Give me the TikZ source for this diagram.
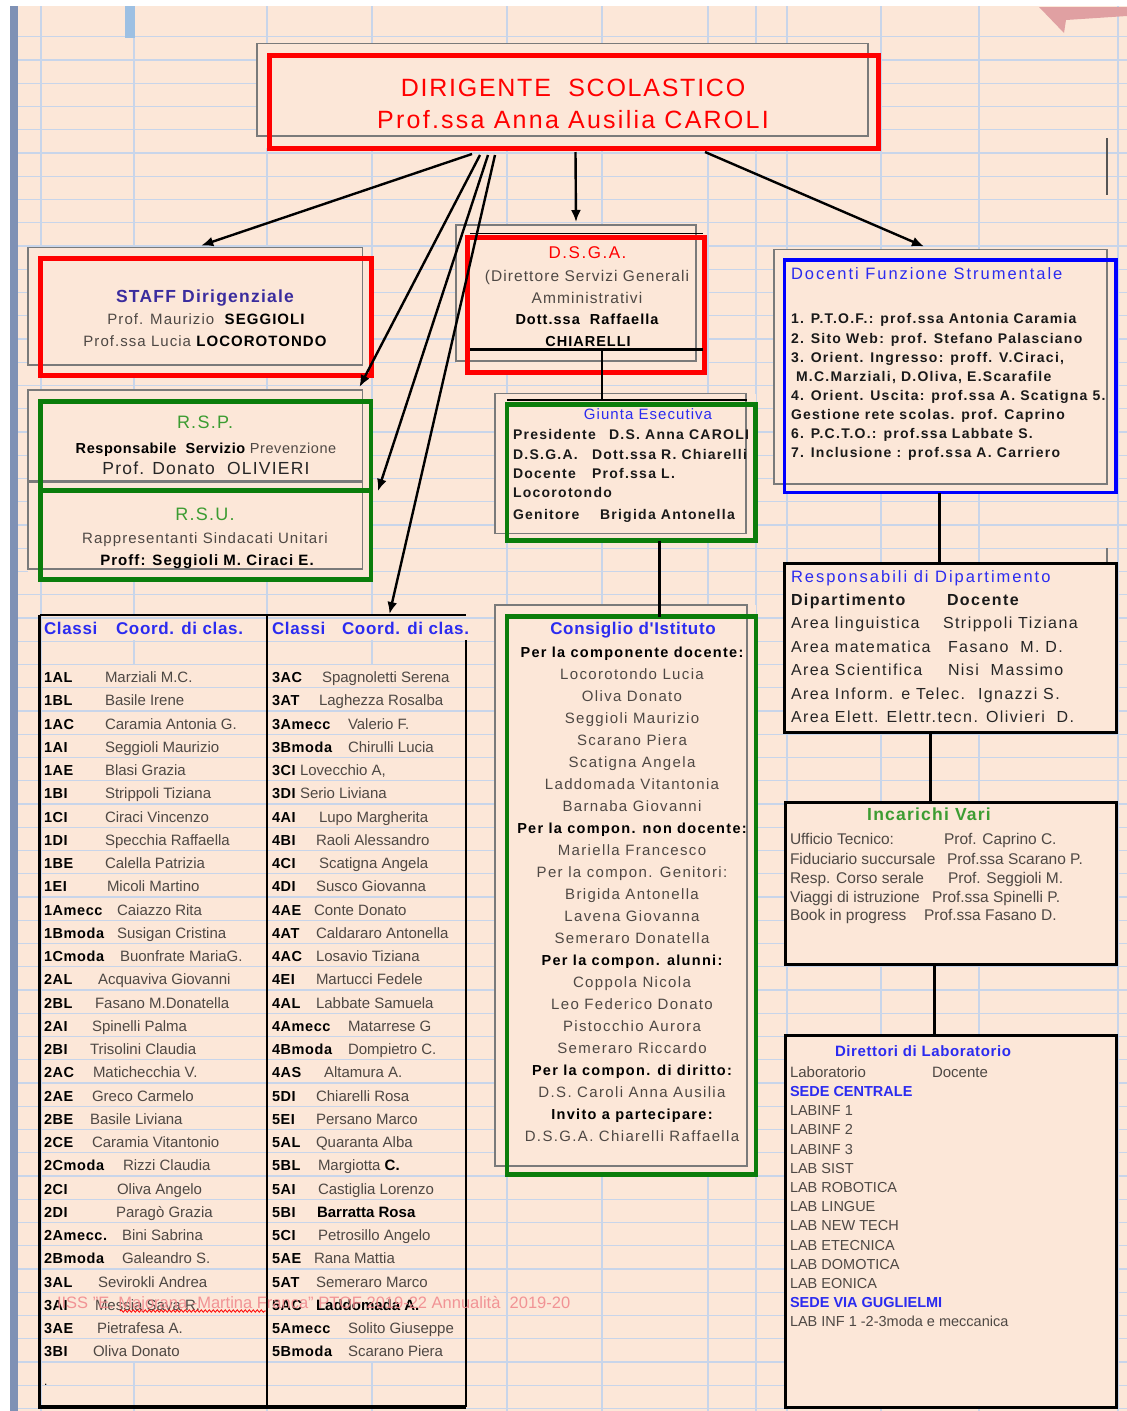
\documentclass[tikz,border=0pt]{standalone}
\usepackage{fontspec}
\setmainfont{Liberation Sans}
\newfontfamily\lsA{Liberation Sans}[LetterSpace=4]
\newfontfamily\lsB{Liberation Sans}[LetterSpace=7]
\newfontfamily\lsC{Liberation Sans}[LetterSpace=9]
\newfontfamily\lsD{Liberation Sans}[LetterSpace=12]
\usetikzlibrary{arrows.meta,fit,decorations.pathmorphing}
\newcommand{\fsz}[1]{\fontsize{#1}{#1}\selectfont}
\definecolor{bgpeach}{HTML}{FCE7D8}
\definecolor{gridblue}{HTML}{C8D5EA}
\definecolor{barblue}{HTML}{7F91B5}
\definecolor{tabmark}{HTML}{9DC0E3}
\definecolor{pinkshape}{HTML}{E0A0A2}
\definecolor{txtgray}{HTML}{4E4844}
\definecolor{ttlblue}{HTML}{2B2BF0}
\definecolor{ttlindigo}{HTML}{3A2C9E}
\definecolor{ttlgreen}{HTML}{3C9C32}
\definecolor{boxgreen}{HTML}{0B7D0B}
\definecolor{graybox}{HTML}{7A7A7A}
\definecolor{wmred}{HTML}{F08A8E}
\tikzset{
  txt/.style={inner sep=0pt, outer sep=0pt, anchor=mid, yshift=-4pt},
  ltxt/.style={inner sep=0pt, outer sep=0pt, anchor=mid west, yshift=-4pt},
  grayframe/.style={draw=graybox, line width=1.6pt, fill=bgpeach, inner sep=0pt, outer sep=0pt},
  redframe/.style={draw=red, line width=5pt, inner sep=0pt, outer sep=0pt},
  greenframe/.style={draw=boxgreen, line width=4.5pt, inner sep=0pt, outer sep=0pt},
  blueframe/.style={draw=blue, line width=3.5pt, inner sep=0pt, outer sep=0pt},
  blackframe/.style={draw=black, line width=3pt, fill=bgpeach, inner sep=0pt, outer sep=0pt},
  ghost/.style={draw=none, inner sep=0pt, outer sep=0pt},
  arr/.style={line width=2.4pt, -{Latex[length=12pt,width=10pt]}},
  conn/.style={line width=3pt},
  gridline/.style={draw=gridblue, line width=1.2pt},
  code/.style={ltxt, font=\lsA\bfseries\fsz{14.5}},
  nm/.style={ltxt, text=txtgray, font=\fsz{15}},
  consn/.style={txt, text=txtgray, font=\lsC\fsz{15}},
  consb/.style={txt, text=black, font=\lsC\bfseries\fsz{14.5}},
  dfsitem/.style={ltxt, text=black!90, font=\lsC\bfseries\fsz{14}},
  resprow/.style={ltxt, text=black!85, font=\lsC\fsz{16}},
  incrow/.style={ltxt, text=txtgray, font=\fsz{15.5}},
  labrow/.style={ltxt, text=txtgray, font=\fsz{14.5}},
  labl/.style={labrow},
  labs/.style={labrow, text=ttlblue, font=\bfseries\fsz{14.5}},
  gitem/.style={ltxt, text=black!90, font=\lsC\bfseries\fsz{14}},
}
\begin{document}
\begin{tikzpicture}[x=1pt,y=-1pt]
\useasboundingbox (0,0) rectangle (1127,1411);
\fill[white] (0,0) rectangle (1127,1411);
\fill[bgpeach] (18,6) rectangle (1127,1411);
\fill[barblue] (10,6) rectangle (18,1411);
% grid
\foreach \gk in {0,...,59} \draw[gridline] (18,36.65+23.25*\gk) -- (1127,36.65+23.25*\gk);
\foreach \gx in {41,267,507,602,708,756,787,881,979,1118} \draw[gridline] (\gx,6) -- (\gx,1411);
\foreach \gx in {134,372} {
  \draw[gridline] (\gx,6) -- (\gx,615);
  \draw[gridline] (\gx,640) -- (\gx,664.4);
  \draw[gridline] (\gx,1362) -- (\gx,1411);
}
\fill[tabmark] (125,6) rectangle (135,38);
\fill[pinkshape] (1039,7) -- (1127,7) -- (1127,16) -- (1066,20) -- (1064,33) -- cycle;
\draw[graybox!70!black, line width=1.5pt] (1107,138) -- (1107,195);
\draw[graybox, line width=1.2pt] (1107,548) -- (1107,573);

% ---------- Dirigente
\fill[bgpeach] (257,43.5) rectangle (878,148);
\node[grayframe, fit={(257,43.5)(868,136)}] (dirsh) {};
\node[redframe, fit={(269,55)(878,148)}] (dir) {};
\node[txt, text=red, font=\lsB\fsz{25}, yshift=-2pt] (dirT1) at (573,88) {DIRIGENTE\ \ SCOLASTICO};
\node[txt, text=red, font=\lsC\fsz{25}, yshift=-2pt] (dirT2) at (573,120) {Prof.ssa Anna Ausilia CAROLI};

% ---------- Staff
\fill[bgpeach] (28,247.5) rectangle (371,375);
\node[grayframe, fit={(28,247.5)(362.5,365)}] (staffsh) {};
\node[redframe, fit={(40.5,258)(371,375)}] (staff) {};
\node[txt, text=ttlindigo, font=\lsB\bfseries\fsz{17.5}] (staffT1) at (205,296) {STAFF Dirigenziale};
\node[txt, text=txtgray, font=\lsB\fsz{15}] (staffT2) at (206,318) {Prof. Maurizio\ \ \textcolor{black}{\bfseries SEGGIOLI}};
\node[txt, text=txtgray, font=\lsB\fsz{15}] (staffT3) at (205,340) {Prof.ssa Lucia \textcolor{black}{\bfseries LOCOROTONDO}};

% ---------- RSP / RSU
\fill[bgpeach] (28,390) rectangle (371,579.5);
\node[grayframe, fit={(28,390)(362.5,481)}] (rspsh) {};
\node[grayframe, fit={(28,482.5)(362.5,569)}] (rsush) {};
\node[greenframe, fit={(40.5,401.5)(371,490)}] (rsp) {};
\node[greenframe, fit={(40.5,491)(371,579.5)}] (rsu) {};
\node[txt, text=ttlgreen, font=\lsB\fsz{18}] (rspT1) at (205,422) {R.S.P.};
\node[txt, text=txtgray, font=\lsA\fsz{14.5}] (rspT2) at (206,447) {\textcolor{black}{\bfseries Responsabile\ \ Servizio} Prevenzione};
\node[txt, text=black!85, font=\lsB\fsz{17.5}] (rspT3) at (206,468) {Prof. Donato\ \ OLIVIERI};
\node[txt, text=ttlgreen, font=\lsB\fsz{18}] (rsuT1) at (205,514) {R.S.U.};
\node[txt, text=txtgray, font=\lsB\fsz{15}] (rsuT2) at (205,537) {Rappresentanti Sindacati Unitari};
\node[txt, text=black, font=\lsB\bfseries\fsz{15}] (rsuT3) at (207,559) {Proff: Seggioli M. Ciraci E.};

% ---------- DSGA
\fill[bgpeach] (456,225) rectangle (704.5,372);
\node[grayframe, fit={(456,225)(696,361)}] (dsgash) {};
\node[redframe, fit={(467.5,237.5)(704.5,372)}] (dsga) {};
\draw[black, line width=1.5pt] (470,233.3) -- (703,233.3);
\draw[black, line width=3pt] (470,349.5) -- (703,349.5);
\coordinate (dsgaline) at (602,349.5);
\node[txt, text=red, font=\lsC\fsz{17}] (dsgaT1) at (587.5,252) {D.S.G.A.};
\node[txt, text=txtgray, font=\lsB\fsz{15.5}] (dsgaT2) at (587,275) {(Direttore Servizi Generali};
\node[txt, text=txtgray, font=\lsB\fsz{15.5}] (dsgaT3) at (587,297) {Amministrativi};
\node[txt, text=black, font=\lsB\bfseries\fsz{14.5}] (dsgaT4) at (587,318) {Dott.ssa\ \ Raffaella};
\node[txt, text=black, font=\lsB\bfseries\fsz{14.5}] (dsgaT5) at (588,340) {CHIARELLI};

% ---------- Giunta
\fill[bgpeach] (495,393.5) rectangle (755.5,540.5);
\node[grayframe, fit={(495,393.5)(746,533.5)}] (giuntash) {};
\node[greenframe, fit={(507,404.5)(755.5,540.5)}] (giunta) {};
\draw[black, line width=1.5pt] (507,400) -- (747,400);
\coordinate (giuntaline) at (602,400);
\node[txt, text=ttlblue, font=\lsB\fsz{15}] (giuntaT) at (648,413) {Giunta Esecutiva};
\node[gitem] (g1a) at (513,433) {Presidente};
\node[gitem] (g1b) at (609,433) {D.S. Anna CAROLI};
\node[gitem] (g2a) at (513,453) {D.S.G.A.};
\node[gitem] (g2b) at (592,453) {Dott.ssa R. Chiarelli};
\node[gitem] (g3a) at (513,472) {Docente};
\node[gitem] (g3b) at (592,472) {Prof.ssa L.};
\node[gitem] (g4a) at (513,491) {Locorotondo};
\node[gitem] (g5a) at (513,513) {Genitore};
\node[gitem] (g5b) at (600,513) {Brigida Antonella};

% ---------- Consiglio
\fill[bgpeach] (495,605) rectangle (756,1174.5);
\node[grayframe, fit={(495,605)(747,1166)}] (conssh) {};
\node[greenframe, fit={(507,616.5)(756,1174.5)}] (cons) {};
\node[txt, text=ttlblue, font=\lsA\bfseries\fsz{17}] (consT) at (633,628) {Consiglio d'Istituto};
\foreach \st/\tx [count=\ii from 0] in {
  b/{Per la componente docente:}, n/{Locorotondo Lucia}, n/{Oliva Donato},
  n/{Seggioli Maurizio}, n/{Scarano Piera}, n/{Scatigna Angela},
  n/{Laddomada Vitantonia}, n/{Barnaba Giovanni}, b/{Per la compon. non docente:},
  n/{Mariella Francesco}, n/{Per la compon. Genitori:}, n/{Brigida Antonella},
  n/{Lavena Giovanna}, n/{Semeraro Donatella}, b/{Per la compon. alunni:},
  n/{Coppola Nicola}, n/{Leo Federico Donato}, n/{Pistocchio Aurora},
  n/{Semeraro Riccardo}, b/{Per la compon. di diritto:}, n/{D.S. Caroli Anna Ausilia},
  b/{Invito a partecipare:}, n/{D.S.G.A. Chiarelli Raffaella}}
  {\node[cons\st] (ci\ii) at (632,651+22*\ii) {\tx};}

% ---------- Docenti Funzione Strumentale
\fill[bgpeach] (774,249.5) rectangle (1116,492.5);
\node[grayframe, fit={(774,249.5)(1107,484)}] (dfssh) {};
\node[blueframe, fit={(784.5,260)(1116,492.5)}] (dfs) {};
\node[ltxt, text=ttlblue, font=\lsD\fsz{16.5}] (dfsT) at (791,273) {Docenti Funzione Strumentale};
\node[dfsitem] (dfs1) at (791,317) {1. P.T.O.F.: prof.ssa Antonia Caramia};
\node[dfsitem] (dfs2) at (791,337) {2. Sito Web: prof. Stefano Palasciano};
\node[dfsitem] (dfs3) at (791,356) {3. Orient. Ingresso: proff. V.Ciraci,};
\node[dfsitem] (dfs4) at (796,375) {M.C.Marziali, D.Oliva, E.Scarafile};
\node[dfsitem] (dfs5) at (791,394) {4. Orient. Uscita: prof.ssa A. Scatigna 5.};
\node[dfsitem] (dfs6) at (791,413) {Gestione rete scolas. prof. Caprino};
\node[dfsitem] (dfs7) at (791,432) {6. P.C.T.O.: prof.ssa Labbate S.};
\node[dfsitem] (dfs8) at (791,451) {7. Inclusione : prof.ssa A. Carriero};

% ---------- Responsabili di Dipartimento
\node[blackframe, fit={(784.5,563)(1116.5,732.5)}] (resp) {};
\node[ltxt, text=ttlblue, font=\lsD\fsz{16.5}] (respT) at (791,576) {Responsabili di Dipartimento};
\node[ltxt, text=black!90, font=\lsC\bfseries\fsz{16}] (respH1) at (791,599) {Dipartimento};
\node[ltxt, text=black!90, font=\lsC\bfseries\fsz{16}] (respH2) at (947,599) {Docente};
\node[resprow] (r1a) at (791,622) {Area linguistica};
\node[resprow] (r1b) at (943,622) {Strippoli Tiziana};
\node[resprow] (r2a) at (791,646) {Area matematica};
\node[resprow] (r2b) at (948,646) {Fasano\ \ M. D.};
\node[resprow] (r3a) at (791,669) {Area Scientifica};
\node[resprow] (r3b) at (948,669) {Nisi\ \ Massimo};
\node[resprow] (r4a) at (791,693) {Area Inform. e Telec.};
\node[resprow] (r4b) at (978,693) {Ignazzi S.};
\node[resprow] (r5a) at (791,716) {Area Elett. Elettr.tecn.};
\node[resprow] (r5b) at (986,716) {Olivieri\ \ D.};

% ---------- Incarichi Vari
\node[blackframe, fit={(785,802.5)(1116.5,964.5)}] (inc) {};
\node[txt, text=ttlgreen, font=\lsB\bfseries\fsz{17.5}] (incT) at (929,814) {Incarichi Vari};
\node[incrow] (i1a) at (790,838) {Ufficio Tecnico:};
\node[incrow] (i1b) at (944,838) {Prof. Caprino C.};
\node[incrow] (i2a) at (790,858) {Fiduciario succursale};
\node[incrow] (i2b) at (947,858) {Prof.ssa Scarano P.};
\node[incrow] (i3a) at (790,877) {Resp. Corso serale};
\node[incrow] (i3b) at (948,877) {Prof. Seggioli M.};
\node[incrow] (i4a) at (790,896) {Viaggi di istruzione};
\node[incrow] (i4b) at (932,896) {Prof.ssa Spinelli P.};
\node[incrow] (i5a) at (790,914) {Book in progress};
\node[incrow] (i5b) at (924,914) {Prof.ssa Fasano D.};

% ---------- Direttori di Laboratorio
\node[blackframe, fit={(785,1035.5)(1116.5,1407.5)}] (lab) {};
\node[txt, text=ttlblue, font=\lsA\bfseries\fsz{15}] (labT) at (923,1050) {Direttori di Laboratorio};
\node[labrow, font=\fsz{15}] (labH1) at (790,1071) {Laboratorio};
\node[labrow, font=\fsz{15}] (labH2) at (932,1071) {Docente};
\foreach \st/\tx [count=\ii from 0] in {
  s/{SEDE CENTRALE}, l/{LABINF 1}, l/{LABINF 2}, l/{LABINF 3}, l/{LAB SIST},
  l/{LAB ROBOTICA}, l/{LAB LINGUE}, l/{LAB NEW TECH}, l/{LAB ETECNICA},
  l/{LAB DOMOTICA}, l/{LAB EONICA}, s/{SEDE VIA GUGLIELMI}, l/{LAB INF 1 -2-3moda e meccanica}}
  {\node[lab\st] (lb\ii) at (790,1090+19.17*\ii) {\tx};}

% ---------- Tables
\node[ghost, fit={(39.5,615)(267,1407)}] (tabL) {};
\node[ghost, fit={(267,615)(466,1407)}] (tabR) {};
\draw[black, line width=2pt] (tabL.north west) -- (tabR.north east);
\draw[black, line width=2pt] (tabL.north east) -- (tabL.south east);
\draw[black, line width=2pt] ([shift={(0,25)}]tabR.north east) -- (tabR.south east);
\draw[black, line width=3.5pt] (tabL.north west) -- (tabL.south west) -- (tabR.south east);
\node[ltxt, text=ttlblue, font=\lsA\bfseries\fsz{17}] (hdL1) at (44,628) {Classi};
\node[ltxt, text=ttlblue, font=\lsA\bfseries\fsz{17}] (hdL2) at (116,628) {Coord. di clas.};
\node[ltxt, text=ttlblue, font=\lsA\bfseries\fsz{17}] (hdR1) at (272,628) {Classi};
\node[ltxt, text=ttlblue, font=\lsA\bfseries\fsz{17}] (hdR2) at (342,628) {Coord. di clas.};
\foreach \cod/\nam/\xpos [count=\ii from 0] in {
  1AL/Marziali M.C./105, 1BL/Basile Irene/105, 1AC/Caramia Antonia G./105,
  1AI/Seggioli Maurizio/105, 1AE/Blasi Grazia/105, 1BI/Strippoli Tiziana/105,
  1CI/Ciraci Vincenzo/105, 1DI/Specchia Raffaella/105, 1BE/Calella Patrizia/105,
  1EI/Micoli Martino/107, 1Amecc/Caiazzo Rita/117, 1Bmoda/Susigan Cristina/117,
  1Cmoda/Buonfrate MariaG./120, 2AL/Acquaviva Giovanni/98, 2BL/Fasano M.Donatella/95,
  2AI/Spinelli Palma/92, 2BI/Trisolini Claudia/90, 2AC/Matichecchia V./93,
  2AE/Greco Carmelo/92, 2BE/Basile Liviana/90, 2CE/Caramia Vitantonio/92,
  2Cmoda/Rizzi Claudia/123, 2CI/Oliva Angelo/117, 2DI/Paragò Grazia/116,
  2Amecc./Bini Sabrina/122, 2Bmoda/Galeandro S./122, 3AL/Sevirokli Andrea/98,
  3AI/Messia Sava R./95, 3AE/Pietrafesa A./97, 3BI/Oliva Donato/93}
{
  \node[code] (lc\ii) at (44,676+23.25*\ii) {\cod};
  \node[nm] (ln\ii) at (\xpos,676+23.25*\ii) {\nam};
}
\node[ltxt, font=\fsz{12}] (ldot) at (44,1379) {.};
\foreach \cod/\nam/\xpos [count=\ii from 0] in {
  3AC/Spagnoletti Serena/322, 3AT/Laghezza Rosalba/319, 3Amecc/Valerio F./348,
  3Bmoda/Chirulli Lucia/348, 3CI/{Lovecchio A,}/300, 3DI/Serio Liviana/300,
  4AI/Lupo Margherita/319, 4BI/Raoli Alessandro/316, 4CI/Scatigna Angela/319,
  4DI/Susco Giovanna/316, 4AE/Conte Donato/314, 4AT/Caldararo Antonella/316,
  4AC/Losavio Tiziana/316, 4EI/Martucci Fedele/316, 4AL/Labbate Samuela/316,
  4Amecc/Matarrese G/348, 4Bmoda/Dompietro C./348, 4AS/Altamura A./324,
  5DI/Chiarelli Rosa/316, 5EI/Persano Marco/316, 5AL/Quaranta Alba/316,
  5BL/{Margiotta {\color{black}\bfseries C.}}/318, 5AI/Castiglia Lorenzo/318,
  5BI/{{\color{black}\bfseries Barratta Rosa}}/317, 5CI/Petrosillo Angelo/318,
  5AE/Rana Mattia/314, 5AT/Semeraro Marco/316,
  5AC/{{\color{black}\bfseries Laddomada A.}}/316, 5Amecc/Solito Giuseppe/348,
  5Bmoda/Scarano Piera/348}
{
  \node[code] (rc\ii) at (272,676+23.25*\ii) {\cod};
  \node[nm] (rn\ii) at (\xpos,676+23.25*\ii) {\nam};
}
\draw[red, line width=0.8pt, decorate, decoration={snake, amplitude=1.2pt, segment length=4pt}] (120,1311) -- (266,1311);
\node[ltxt, text=wmred, font=\fsz{16.5}, opacity=0.9] (wm) at (57,1302) {IISS "E. Majorana -Martina Franca" PTOF 2019-22 Annualità\ \ 2019-20};

% ---------- Connectors
\draw[arr] ([shift={(-101.5,6)}]dir.south) -- ([shift={(6,-2)}]staffsh.north);
\draw[arr] ([shift={(-93.5,7)}]dir.south) -- ([shift={(-3,-3)}]rspsh.north east);
\draw[arr] ([shift={(-85.5,7)}]dir.south) -- ([shift={(7,0)}]rsu.north east);
\draw[arr] ([shift={(-78.5,7)}]dir.south) -- ([shift={(23,-1)}]tabR.north);
\draw[arr] ([shift={(2,4)}]dir.south) -- ([shift={(0,-3)}]dsgash.north);
\draw[arr] ([shift={(131.5,4)}]dir.south) -- ([shift={(-16.5,-3)}]dfssh.north);
\draw[line width=2pt] (dsgaline) -- (giuntaline);
\draw[conn] ([xshift=27.75pt]giunta.south) -- ([xshift=27.5pt]cons.north);
\draw[conn] ([xshift=-10.75pt]dfs.south) -- ([xshift=-11pt]resp.north);
\draw[conn] ([xshift=-20pt]resp.south) -- ([xshift=-20.25pt]inc.north);
\draw[conn] ([xshift=-16.25pt]inc.south) -- ([xshift=-16.25pt]lab.north);
\end{tikzpicture}
\end{document}
